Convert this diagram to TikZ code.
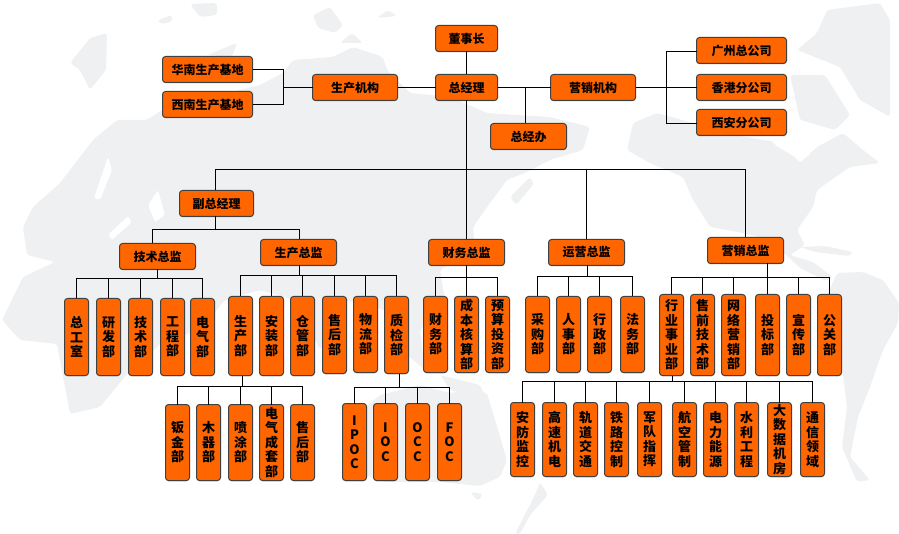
\documentclass[tikz,border=0pt]{standalone}
\usepackage{fontspec}
\newfontfamily\cjk{Noto Sans CJK SC}
\usetikzlibrary{calc,shadows}
\definecolor{boxfill}{HTML}{FF6600}
\definecolor{boxline}{HTML}{404040}
\definecolor{mapgray}{HTML}{EFF0F1}
\tikzset{
  box/.style={draw=boxline,fill=boxfill,line width=1pt,rounded corners=3pt,
    inner sep=0pt,outer sep=0pt,align=center,text=black,
    drop shadow={shadow xshift=0pt,shadow yshift=-.8pt,opacity=.4,fill=gray},
    font=\cjk\bfseries\fontsize{12}{14.5}\selectfont},
  hbox/.style={box,minimum height=26pt},
  vbox/.style={box,minimum width=24pt,font=\cjk\bfseries\fontsize{13}{14.5}\selectfont},
  link/.style={line width=1.1pt,black},
  land/.style={fill=mapgray,rounded corners=3pt},
  gap/.style={fill=white,rounded corners=2pt},
}

\begin{document}
\begin{tikzpicture}[x=1pt,y=-1pt]
\useasboundingbox (0,0) rectangle (899,534);

% world map behind
\fill[land] (23,227) -- (33,207) -- (60,183) -- (93,140) -- (117,120) -- (147,120) -- (165,108)
  -- (200,100) -- (260,85) -- (283,73) -- (293,60) -- (333,57) -- (353,47) -- (383,57) -- (387,70)
  -- (410,93) -- (450,97) -- (487,113) -- (550,117) -- (590,127) -- (583,150) -- (550,160)
  -- (527,172) -- (507,180) -- (490,203) -- (473,227) -- (475,250) -- (440,270) -- (445,300)
  -- (420,330) -- (425,370) -- (395,345) -- (385,310) -- (345,300) -- (320,350) -- (295,300)
  -- (260,290) -- (225,300) -- (200,330) -- (165,340) -- (127,374) -- (100,407) -- (70,414)
  -- (57,344) -- (20,340) -- (2,320) -- (23,277) -- (55,262) -- (27,255) -- cycle;
\fill[gap] (94,198) -- (108,157) -- (112,170) -- (100,200) -- cycle;
\fill[gap] (108,235) -- (128,216) -- (132,222) -- (112,240) -- cycle;
\fill[gap] (148,205) -- (158,190) -- (165,215) -- (155,222) -- cycle;
\fill[land] (70,63) -- (90,38) -- (107,33) -- (106,70) -- (90,90) -- (80,70) -- cycle;
\fill[land] (190,4) -- (217,3) -- (217,15) -- (200,17) -- cycle;
\fill[land] (158,20) -- (172,15) -- (172,22) -- (160,24) -- cycle;
\fill[land] (313,15) -- (330,7) -- (343,25) -- (335,33) -- (318,28) -- cycle;
\fill[land] (340,43) -- (352,33) -- (363,43) -- cycle;
\fill[land] (377,18) -- (388,10) -- (397,16) -- cycle;
\fill[land] (207,55) -- (237,43) -- (232,57) -- cycle;
\fill[land] (510,197) -- (530,177) -- (534,184) -- (516,205) -- cycle;
% america
\fill[land] (627,150) -- (633,123) -- (657,113) -- (700,125) -- (723,133) -- (763,140) -- (783,143)
  -- (800,163) -- (817,147) -- (843,133) -- (863,150) -- (880,163) -- (850,167) -- (817,190)
  -- (813,207) -- (797,230) -- (805,245) -- (790,255) -- (813,262) -- (833,277) -- (826,281)
  -- (800,268) -- (770,240) -- (743,233) -- (710,227) -- (693,200) -- (683,177) -- (650,163) -- cycle;
\fill[gap] (768,135) -- (800,138) -- (810,155) -- (800,160) -- (775,145) -- cycle;
\fill[land] (827,10) -- (880,3) -- (890,20) -- (890,117) -- (860,100) -- (840,67) -- (797,50) -- (817,33) -- cycle;
\fill[land] (790,75) -- (825,75) -- (850,115) -- (835,130) -- (800,120) -- cycle;
\fill[land] (800,247) -- (825,246) -- (853,252) -- (850,256) -- (815,252) -- cycle;
\fill[land] (837,273) -- (863,272) -- (883,280) -- (899,303) -- (898,323) -- (883,350) -- (870,387)
  -- (858,417) -- (850,457) -- (870,480) -- (857,482) -- (842,447) -- (847,407) -- (840,350)
  -- (825,300) -- cycle;
% australia and islands
\fill[land] (345,425) -- (380,395) -- (420,385) -- (450,393) -- (470,390) -- (487,393) -- (507,460)
  -- (500,477) -- (480,486) -- (440,482) -- (385,482) -- (350,470) -- cycle;
\fill[land] (470,492) -- (483,494) -- (478,501) -- cycle;
\fill[land] (440,375) -- (480,385) -- (487,400) -- (450,390) -- cycle;
\fill[land] (540,482) -- (548,495) -- (530,515) -- (520,534) -- (515,534) -- (535,495) -- cycle;

% top level
\node[hbox,minimum width=62pt] (chair) at (466.5,38.5) {董事长};
\node[hbox,minimum width=62pt] (gm) at (466.5,87.5) {总经理};
\node[hbox,minimum width=85pt] (prodorg) at (355,87.5) {生产机构};
\node[hbox,minimum width=90pt] (south) at (207.5,69.5) {华南生产基地};
\node[hbox,minimum width=90pt] (west) at (207.5,104.5) {西南生产基地};
\node[hbox,minimum width=85pt] (mktorg) at (593,87.5) {营销机构};
\node[hbox,minimum width=76pt] (office) at (528.5,136.5) {总经办};
\foreach \y/\name/\txt in {50.5/gz/广州总公司,87.5/hk/香港分公司,122.5/xa/西安分公司} {
  \node[hbox,minimum width=90pt] (\name) at (741.5,\y) {\txt};
}
\node[hbox,minimum width=74pt] (vp) at (216.5,203.5) {副总经理};
\foreach \x/\y/\name/\txt in {157.5/256.5/tech/技术总监,298.5/252.5/prod/生产总监,
  466.5/252.5/fin/财务总监,586.5/252.5/ops/运营总监,745.5/250.5/mkt/营销总监} {
  \node[hbox,minimum width=76pt] (\name) at (\x,\y) {\txt};
}

% columns
\foreach \x/\name/\txt in {76.5/t1/总\\工\\室,108.5/t2/研\\发\\部,140.5/t3/技\\术\\部,172.5/t4/工\\程\\部,202.5/t5/电\\气\\部} {
  \node[vbox,minimum height=77pt] (\name) at (\x,337) {\txt};
}
\foreach \x/\h/\name/\txt in {240.5/79/p1/生\\产\\部,271.5/79/p2/安\\装\\部,302.5/79/p3/仓\\管\\部,334.5/77/p4/售\\后\\部,365.5/76/p5/物\\流\\部,396.5/77/p6/质\\检\\部} {
  \node[vbox,minimum height=\h pt,anchor=north] (\name) at (\x,296.5) {\txt};
}
\foreach \x/\name/\txt in {435.5/f1/财\\务\\部,466.5/f2/成\\本\\核\\算\\部,497.5/f3/预\\算\\投\\资\\部} {
  \node[vbox,minimum height=76pt] (\name) at (\x,334.5) {\txt};
}
\foreach \x/\name/\txt in {537.5/o1/采\\购\\部,568.5/o2/人\\事\\部,599.5/o3/行\\政\\部,632.5/o4/法\\务\\部} {
  \node[vbox,minimum height=76pt] (\name) at (\x,334.5) {\txt};
}
\foreach \x/\name/\txt in {671.5/m1/行\\业\\事\\业\\部,702.5/m2/售\\前\\技\\术\\部,733.5/m3/网\\络\\营\\销\\部,767.5/m4/投\\标\\部,798.5/m5/宣\\传\\部,829.5/m6/公\\关\\部} {
  \node[vbox,minimum height=81pt] (\name) at (\x,335) {\txt};
}
\foreach \x/\name/\txt in {177.5/w1/钣\\金\\部,208.5/w2/木\\器\\部,240.5/w3/喷\\涂\\部,271.5/w4/电\\气\\成\\套\\部,302.5/w5/售\\后\\部} {
  \node[vbox,minimum height=76pt] (\name) at (\x,442.5) {\txt};
}
\foreach \x/\name/\txt in {354.5/q1/I\\P\\O\\C,385.5/q2/I\\O\\C,417.5/q3/O\\C\\C,449.5/q4/F\\O\\C} {
  \node[vbox,minimum height=77pt] (\name) at (\x,442) {\txt};
}
\foreach \x/\name/\txt in {522.5/s1/安\\防\\监\\控,554.5/s2/高\\速\\机\\电,585.5/s3/轨\\道\\交\\通,616.5/s4/铁\\路\\控\\制,649.5/s5/军\\队\\指\\挥,684.5/s6/航\\空\\管\\制,715.5/s7/电\\力\\能\\源,746.5/s8/水\\利\\工\\程,779.5/s9/大\\数\\据\\机\\房,812.5/s10/通\\信\\领\\域} {
  \node[vbox,minimum height=74pt] (\name) at (\x,439.5) {\txt};
}

% upper connectors
\coordinate (trunk) at (466.5,169.5);
\coordinate (westfork) at (283.5,87.5);
\coordinate (eastfork) at (666.5,87.5);
\coordinate (officejoin) at (525.5,87.5);
\draw[link] (chair) -- (gm);
\draw[link] (gm) -- (prodorg);
\draw[link] (gm) -- (mktorg);
\draw[link] (officejoin) -- (officejoin |- office.north);
\draw[link] (south.east) -| (westfork);
\draw[link] (west.east) -| (westfork);
\draw[link] (westfork) -- (prodorg.west);
\draw[link] (mktorg) -- (hk);
\draw[link] ([yshift=-1pt]gz.west) -| (eastfork);
\draw[link] ([yshift=-1pt]xa.west) -| (eastfork);
\draw[link] (gm.south) -- (fin.north);
\foreach \c in {ops,mkt} {
  \draw[link] (\c.north) |- (trunk);
}
\draw[link] ([xshift=-1pt]vp.north) |- (trunk);

% buses
\coordinate (vpbus) at (215.5,229.5);
\coordinate (techbus) at (157.5,278.5);
\coordinate (prodbus) at (299.5,275.5);
\coordinate (finbus) at (466.5,277.5);
\coordinate (opsbus) at (587.5,276.5);
\coordinate (mktbus) at (767.5,277.5);
\coordinate (workbus) at (242.5,386.5);
\coordinate (qcbus) at (399.5,387.5);
\coordinate (lowbus) at (672.5,381.5);
\draw[link] (vpbus) -- (vpbus |- vp.south);
\draw[link] ([xshift=-5pt]tech.north) |- (vpbus);
\draw[link] ([xshift=1pt]prod.north) |- (vpbus);
\foreach \p/\b/\list in {tech/techbus/{t1,t2,t3,t4,t5},prod/prodbus/{p1,p2,p3,p4,p5,p6},
  fin/finbus/{f1,f2,f3},ops/opsbus/{o1,o2,o3,o4},mkt/mktbus/{m1,m2,m3,m4,m5,m6},
  p1/workbus/{w1,w2,w3,w4,w5},p6/qcbus/{q1,q2,q3,q4},
  m1/lowbus/{s1,s2,s3,s4,s5,s6,s7,s8,s9,s10}} {
  \draw[link] (\b) -- (\b |- \p.south);
  \foreach \c in \list {
    \draw[link] (\c.north) |- (\b);
  }
}

\end{tikzpicture}
\end{document}
